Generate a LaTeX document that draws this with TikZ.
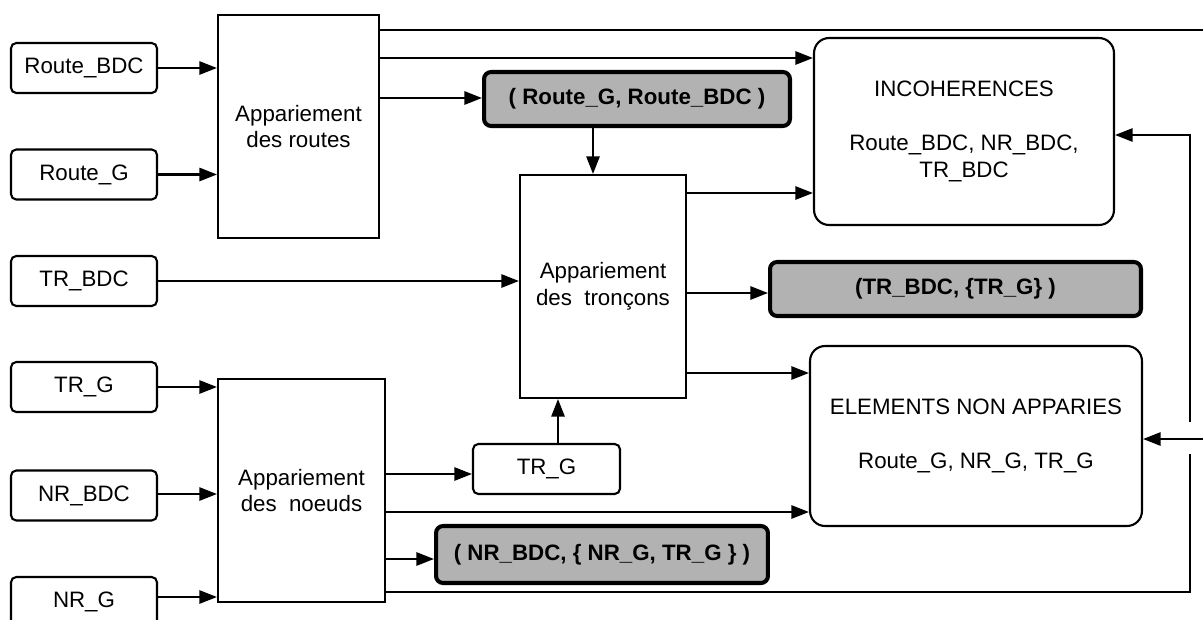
\documentclass[tikz,border=0pt]{standalone}
\usepackage{fontspec}
\setmainfont{Liberation Sans}
\usetikzlibrary{arrows.meta}

\begin{document}
\begin{tikzpicture}[
    x=0.02cm, y=-0.02cm,
    every node/.style={font=\fontsize{12.7}{15.3}\selectfont, align=center, inner sep=0pt},
    inbox/.style={draw, line width=1.2pt, rounded corners=3pt, minimum width=2.92cm, minimum height=1cm},
    stepbox/.style={draw, line width=1.2pt, minimum width=3.32cm, minimum height=4.46cm},
    resbox/.style={draw, line width=2.3pt, fill=black!30, rounded corners=4pt,
                   font=\fontsize{12.7}{15.3}\selectfont\bfseries},
    outbox/.style={draw, line width=1.2pt, rounded corners=0.3cm},
    link/.style={line width=1.2pt, -{Triangle[length=10pt,width=7.5pt]}},
    wire/.style={line width=1.2pt},
]

% Frame of the page
\clip (0,0) rectangle (1203,619);

% Input tables
\node[inbox] (rbdc)  at (84,68)    {Route\_BDC};
\node[inbox] (rg)    at (84,174.5) {Route\_G};
\node[inbox] (trbdc) at (84,281)   {TR\_BDC};
\node[inbox] (trg)   at (84,387)   {TR\_G};
\node[inbox] (nrbdc) at (84,495.5) {NR\_BDC};
\node[inbox] (nrg)   at (84,602)   {NR\_G};

% Matching steps
\node[stepbox, minimum width=3.22cm] (aroutes)   at (298.5,126.5) {Appariement\\des routes};
\node[stepbox]                       (atroncons) at (603,286.5)   {Appariement\\des\hspace{0.55em}tronçons};
\node[stepbox, minimum width=3.34cm] (anoeuds)   at (301.5,490.5) {Appariement\\des\hspace{0.55em}noeuds};

% Matching results (grey)
\node[resbox, minimum width=6.12cm, minimum height=1.08cm] (proutes) at (637,99)    {( Route\_G, Route\_BDC )};
\node[resbox, minimum width=7.42cm, minimum height=1.08cm] (ptr)     at (955.5,289) {(TR\_BDC, \{TR\_G\} )};
\node[resbox, minimum width=6.64cm, minimum height=1.14cm] (pnr)     at (602,554.5) {( NR\_BDC, \{ NR\_G, TR\_G \} )};
\node[inbox, minimum width=2.94cm] (trgout) at (546.5,469) {TR\_G};

% Output tables
\node[outbox, minimum width=6cm, minimum height=3.74cm] (incoh) at (964,131.5)
    {INCOHERENCES\\[15.5pt]Route\_BDC, NR\_BDC,\\TR\_BDC};
\node[outbox, minimum width=6.64cm, minimum height=3.6cm] (elem) at (976,436)
    {ELEMENTS NON APPARIES\\[15.5pt]Route\_G, NR\_G, TR\_G};

% Free ends on the right border
\coordinate (topend)  at (1203,30);
\coordinate (rightin) at (1203,439);
\coordinate (loopbot) at (1190,592);
\coordinate (gaplow)  at (1190,454);
\coordinate (gaphigh) at (1190,422);
\coordinate (looptop) at (1190,135);

% Inputs into the steps
\draw[link] (rbdc.east) -- (rbdc.east -| aroutes.west);
\draw[link] (rg.east) -- (rg.east -| aroutes.west);
\draw[link] (trbdc.east) -- (trbdc.east -| atroncons.west);
\draw[link] (trg.east) -- (trg.east -| anoeuds.west);
\draw[link] (nrbdc.east |- 0,494) -- (anoeuds.west |- 0,494);
\draw[link] (nrg.east |- 0,597) -- (anoeuds.west |- 0,597);

% Out of the road matching
\draw[wire] (aroutes.east |- 0,30) -- (topend);
\draw[link] (aroutes.east |- 0,58) -- (incoh.west |- 0,58);
\draw[link] (aroutes.east |- 0,98) -- (proutes.west |- 0,98);
\draw[link] (proutes.south -| 593,0) -- (atroncons.north -| 593,0);

% Out of the section matching
\draw[link] (atroncons.east |- 0,193) -- (incoh.west |- 0,193);
\draw[link] (atroncons.east |- 0,293) -- (ptr.west |- 0,293);
\draw[link] (atroncons.east |- 0,373) -- (elem.west |- 0,373);

% Out of the node matching
\draw[link] (anoeuds.east |- 0,474) -- (trgout.west |- 0,474);
\draw[link] (trgout.north -| 558,0) -- (atroncons.south -| 558,0);
\draw[link] (anoeuds.east |- 0,512) -- (elem.west |- 0,512);
\draw[link] (anoeuds.east |- 0,559) -- (pnr.west |- 0,559);
\draw[wire] (anoeuds.east |- 0,592) -- (loopbot) -- (gaplow);
\draw[link] (gaphigh) -- (looptop) -- (incoh.east |- looptop);
\draw[link] (rightin) -- (elem.east |- rightin);

\end{tikzpicture}
\end{document}
